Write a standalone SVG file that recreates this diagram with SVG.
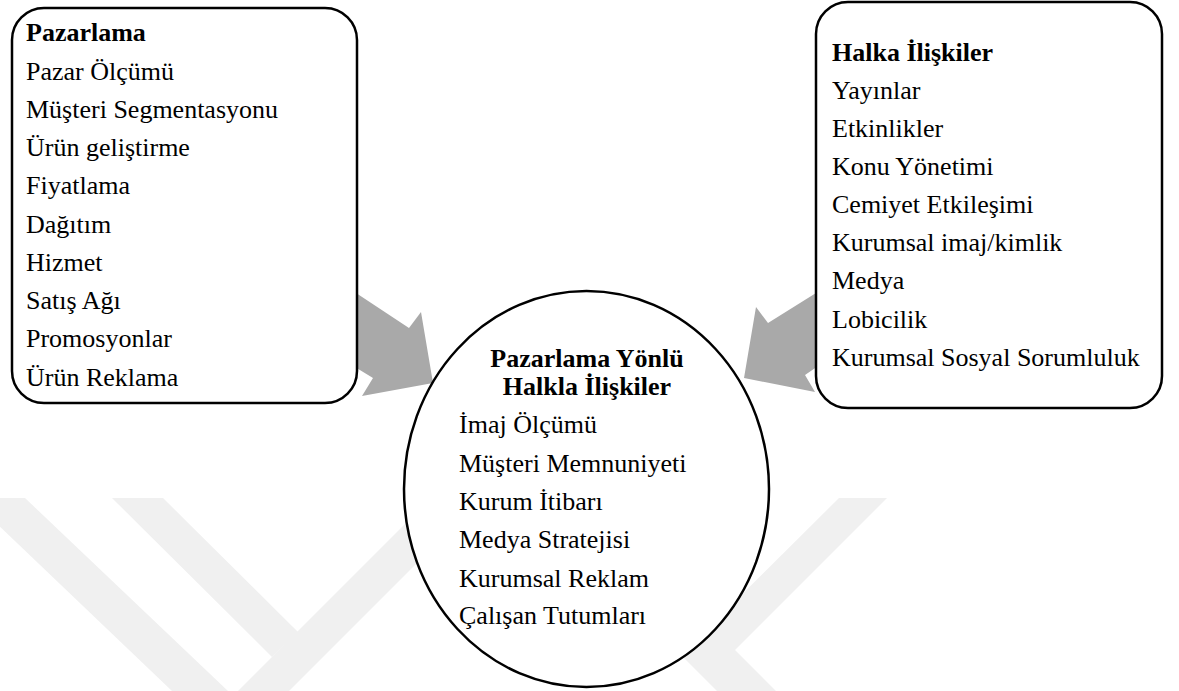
<svg xmlns="http://www.w3.org/2000/svg" width="1179" height="691" viewBox="0 0 1179 691" font-family="Liberation Serif">
<style>
.wm{fill:#f0f0f0}
.arr{fill:#a9a9a9}
.box{fill:#fff;stroke:#000;stroke-width:2.5}
.b{font-weight:bold}
.c{text-anchor:middle}
</style>
<rect width="1179" height="691" fill="#fff"/>
<g id="watermark">
<polygon class="wm" points="-30,498 25,498 228,691 172,691"/>
<polygon class="wm" points="112,498 163,498 298,632 272,657"/>
<polygon class="wm" points="431,498 482,498 289,691 238,691"/>
<polygon class="wm" points="839,498 887,498 735,650 776,691 717,691 681,655"/>
</g>
<g id="connectors">
<polygon class="arr" points="350,289 409,328 421,312 433,383 362,396 373,378 350,364"/>
<polygon class="arr" points="824,288 768,323 756,307 744,378 815,392 805,375 824,362"/>
</g>
<g id="pazarlama">
<rect class="box" x="12" y="8" width="345" height="395" rx="32"/>
<text font-family="Liberation Serif" font-size="26" class="b" x="26" y="41">Pazarlama</text>
<text font-family="Liberation Serif" font-size="26" x="26" y="80">Pazar Ölçümü</text>
<text font-family="Liberation Serif" font-size="26" x="26" y="118">Müşteri Segmentasyonu</text>
<text font-family="Liberation Serif" font-size="26" x="26" y="156">Ürün geliştirme</text>
<text font-family="Liberation Serif" font-size="26" x="26" y="194">Fiyatlama</text>
<text font-family="Liberation Serif" font-size="26" x="26" y="233">Dağıtım</text>
<text font-family="Liberation Serif" font-size="26" x="26" y="271">Hizmet</text>
<text font-family="Liberation Serif" font-size="26" x="26" y="309">Satış Ağı</text>
<text font-family="Liberation Serif" font-size="26" x="26" y="347">Promosyonlar</text>
<text font-family="Liberation Serif" font-size="26" x="26" y="386">Ürün Reklama</text>
</g>
<g id="halkla-iliskiler">
<rect class="box" x="816" y="2" width="346" height="406" rx="32"/>
<text font-family="Liberation Serif" font-size="26" class="b" x="832" y="61">Halka İlişkiler</text>
<text font-family="Liberation Serif" font-size="26" x="832" y="99">Yayınlar</text>
<text font-family="Liberation Serif" font-size="26" x="832" y="137">Etkinlikler</text>
<text font-family="Liberation Serif" font-size="26" x="832" y="175">Konu Yönetimi</text>
<text font-family="Liberation Serif" font-size="26" x="832" y="213">Cemiyet Etkileşimi</text>
<text font-family="Liberation Serif" font-size="26" x="832" y="251">Kurumsal imaj/kimlik</text>
<text font-family="Liberation Serif" font-size="26" x="832" y="289">Medya</text>
<text font-family="Liberation Serif" font-size="26" x="832" y="328">Lobicilik</text>
<text font-family="Liberation Serif" font-size="26" x="832" y="366">Kurumsal Sosyal Sorumluluk</text>
</g>
<g id="pazarlama-yonlu">
<ellipse class="box" cx="586.5" cy="489" rx="182.5" ry="198"/>
<text font-family="Liberation Serif" font-size="26" class="b c" x="587" y="367">Pazarlama Yönlü</text>
<text font-family="Liberation Serif" font-size="26" class="b c" x="587" y="395">Halkla İlişkiler</text>
<text font-family="Liberation Serif" font-size="26" x="459" y="433">İmaj Ölçümü</text>
<text font-family="Liberation Serif" font-size="26" x="459" y="472">Müşteri Memnuniyeti</text>
<text font-family="Liberation Serif" font-size="26" x="459" y="510">Kurum İtibarı</text>
<text font-family="Liberation Serif" font-size="26" x="459" y="548">Medya Stratejisi</text>
<text font-family="Liberation Serif" font-size="26" x="459" y="587">Kurumsal Reklam</text>
<text font-family="Liberation Serif" font-size="26" x="459" y="624">Çalışan Tutumları</text>
</g>
</svg>
